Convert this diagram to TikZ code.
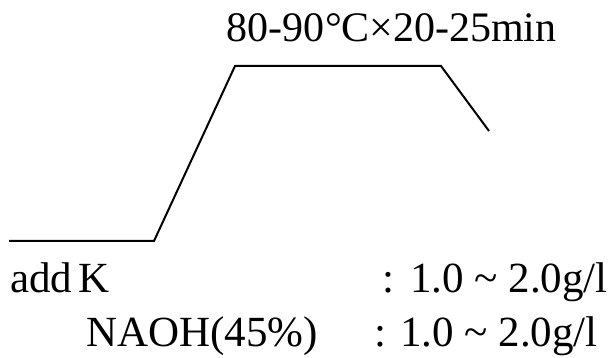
\documentclass[tikz,border=0pt]{standalone}
\usepackage{fontspec}
\setmainfont{Liberation Serif}
\begin{document}
\begin{tikzpicture}[x=1pt,y=-1pt,
  txt/.style={inner sep=0pt,font=\fontsize{43}{43}\selectfont},
  curve/.style={line width=2pt,line join=miter}]
\useasboundingbox (0,0) rectangle (611,358);
\coordinate (p0) at (9,241);
\coordinate (p1) at (154,241);
\coordinate (p2) at (235,66);
\coordinate (p3) at (441,66);
\coordinate (p4) at (489,131);
\draw[curve] (p0) -- (p1) -- (p2) -- (p3) -- (p4);
\node[txt,anchor=base west,font=\fontsize{42}{42}\selectfont] (cond) at (226,42) {80-90\kern0.02em°\kern-0.02em C\kern0.01em×20-25min};
\node[txt,anchor=base west] (addk) at (10,293) {add\kern0.15em K};
\node[txt,anchor=base] (c1) at (388,293) {:};
\node[txt,anchor=base east] (v1) at (608,293) {1.0 \char`\~{} 2.0g/l};
\node[txt,anchor=base west] (naoh) at (86,347) {NAOH(45\%)};
\node[txt,anchor=base] (c2) at (380,347) {:};
\node[txt,anchor=base east] (v2) at (598,347) {1.0 \char`\~{} 2.0g/l};
\end{tikzpicture}
\end{document}
